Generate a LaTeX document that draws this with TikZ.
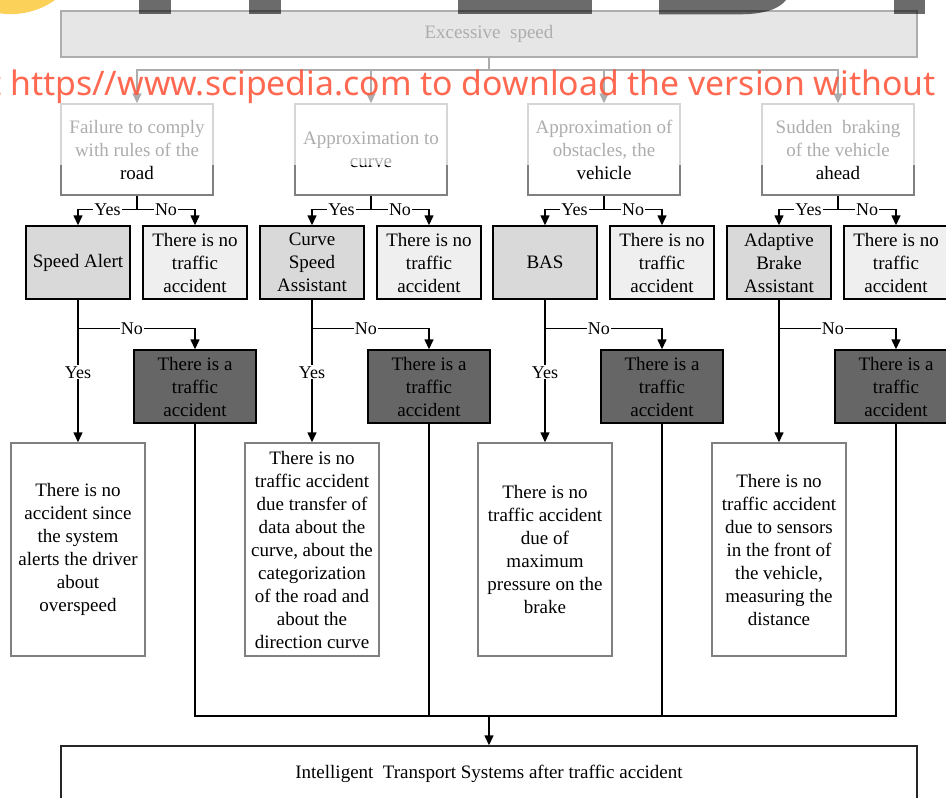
\documentclass[tikz,border=0pt]{standalone}
\usepackage{fontspec}
\setmainfont{Liberation Serif}
\newfontfamily\wmfont{Noto Sans}
\usetikzlibrary{arrows.meta}

\definecolor{edgegrey}{HTML}{808080}
\definecolor{sysfill}{HTML}{D9D9D9}
\definecolor{okfill}{HTML}{EFEFEF}
\definecolor{accfill}{HTML}{666666}
\definecolor{topfill}{HTML}{B3B3B3}
\definecolor{wmred}{RGB}{255,88,62}
\definecolor{wmyellow}{RGB}{252,209,90}

\begin{document}
\begin{tikzpicture}[x=1pt,y=-1pt,
  every node/.style={font=\fontsize{19}{23}\selectfont, align=center, inner sep=0pt},
  flow/.style={line width=1.4pt, draw=black},
  arr/.style={flow, -{Triangle[width=9pt,length=10pt]}},
  lbl/.style={fill=white, inner sep=1pt, font=\fontsize{18}{20}\selectfont},
  cause/.style={draw=black, line width=1.4pt, fill=topfill, minimum width=856pt, minimum height=46pt},
  question/.style={draw=edgegrey, line width=1.4pt, fill=white, minimum width=152pt, minimum height=91pt},
  system/.style={draw=black, line width=1.4pt, fill=sysfill, minimum width=104pt, minimum height=73pt},
  safe/.style={draw=black, line width=1.4pt, fill=okfill, minimum width=104pt, minimum height=73pt},
  crash/.style={draw=black, line width=1.4pt, fill=accfill, minimum width=122pt, minimum height=73pt},
  outcome/.style={draw=edgegrey, line width=1.4pt, fill=white, minimum width=134pt, minimum height=213pt},
  result/.style={draw=black!85, line width=1.4pt, fill=white, minimum width=856pt, minimum height=56pt}
]
\useasboundingbox (0,0) rectangle (946,798);

% cause
\node[cause] (ex) at (489,34) {Excessive\ \ speed};

% situations
\node[question] (q1) at (137,149.5) {Failure to comply\\with rules of the\\road};
\node[question] (q2) at (371,149.5) {Approximation to\\curve};
\node[question] (q3) at (604,149.5) {Approximation of\\obstacles, the\\vehicle};
\node[question] (q4) at (838,149.5) {Sudden\ \ braking\\of the vehicle\\ahead};

% assistance systems and their "no" outcomes
\node[system] (s1) at (78,262.5) {Speed Alert};
\node[safe]   (n1) at (195,262.5) {There is no\\traffic\\accident};
\node[system] (s2) at (312,262.5) {Curve\\Speed\\Assistant};
\node[safe]   (n2) at (429,262.5) {There is no\\traffic\\accident};
\node[system] (s3) at (545,262.5) {BAS};
\node[safe]   (n3) at (662,262.5) {There is no\\traffic\\accident};
\node[system] (s4) at (779,262.5) {Adaptive\\Brake\\Assistant};
\node[safe]   (n4) at (896,262.5) {There is no\\traffic\\accident};

% accidents
\node[crash] (a1) at (195,386.5) {There is a\\traffic\\accident};
\node[crash] (a2) at (429,386.5) {There is a\\traffic\\accident};
\node[crash] (a3) at (662,386.5) {There is a\\traffic\\accident};
\node[crash] (a4) at (896,386.5) {There is a\\traffic\\accident};

% explanations
\node[outcome] (o1) at (78,549.5) {There is no\\accident since\\the system\\alerts the driver\\about\\overspeed};
\node[outcome] (o2) at (312,549.5) {There is no\\traffic accident\\due transfer of\\data about the\\curve, about the\\categorization\\of the road and\\about the\\direction curve};
\node[outcome] (o3) at (545,549.5) {There is no\\traffic accident\\due of\\maximum\\pressure on the\\brake};
\node[outcome] (o4) at (779,549.5) {There is no\\traffic accident\\due to sensors\\in the front of\\the vehicle,\\measuring the\\distance};

% final stage
\node[result] (its) at (489,774) {Intelligent\ \ Transport Systems after traffic accident};

% cause -> situations
\coordinate (j0) at (489,70);
\draw[flow] (ex.south) -- (j0);
\draw[arr] (j0) -| (q1.north);
\draw[arr] (j0) -| (q2.north);
\draw[arr] (j0) -| (q3.north);
\draw[arr] (j0) -| (q4.north);

% situations -> systems
\path (q1.south) ++(0,14) coordinate (j1);
\path (q2.south) ++(0,14) coordinate (j2);
\path (q3.south) ++(0,14) coordinate (j3);
\path (q4.south) ++(0,14) coordinate (j4);
\draw[flow] (q1.south) -- (j1);
\draw[flow] (q2.south) -- (j2);
\draw[flow] (q3.south) -- (j3);
\draw[flow] (q4.south) -- (j4);
\draw[arr] (j1) -| node[lbl,pos=0.25]{Yes} (s1.north);
\draw[arr] (j1) -| node[lbl,pos=0.25]{No} (n1.north);
\draw[arr] (j2) -| node[lbl,pos=0.25]{Yes} (s2.north);
\draw[arr] (j2) -| node[lbl,pos=0.25]{No} (n2.north);
\draw[arr] (j3) -| node[lbl,pos=0.25]{Yes} (s3.north);
\draw[arr] (j3) -| node[lbl,pos=0.25]{No} (n3.north);
\draw[arr] (j4) -| node[lbl,pos=0.25]{Yes} (s4.north);
\draw[arr] (j4) -| node[lbl,pos=0.25]{No} (n4.north);

% systems -> outcomes
\path (s1.south) ++(0,29) coordinate (k1);
\path (s2.south) ++(0,29) coordinate (k2);
\path (s3.south) ++(0,29) coordinate (k3);
\path (s4.south) ++(0,29) coordinate (k4);
\draw[arr] (s1.south) -- node[lbl,pos=0.51]{Yes} (o1.north);
\draw[arr] (s2.south) -- node[lbl,pos=0.51]{Yes} (o2.north);
\draw[arr] (s3.south) -- node[lbl,pos=0.51]{Yes} (o3.north);
\draw[arr] (s4.south) -- (o4.north);
\draw[arr] (k1) -| node[lbl,pos=0.23]{No} (a1.north);
\draw[arr] (k2) -| node[lbl,pos=0.23]{No} (a2.north);
\draw[arr] (k3) -| node[lbl,pos=0.23]{No} (a3.north);
\draw[arr] (k4) -| node[lbl,pos=0.23]{No} (a4.north);

% accidents -> intelligent transport systems
\coordinate (bus) at (489,716);
\draw[flow] (a1.south) |- (bus);
\draw[flow] (a2.south) |- (bus);
\draw[flow] (a3.south) |- (bus);
\draw[flow] (a4.south) |- (bus);
\draw[arr] (bus) -- (its.north);

% light veil over the upper band
\fill[white, opacity=0.68] (0,0) rectangle (946,165);

% watermark
\fill[wmyellow] (10.8,-62.3) circle (76.4pt);
\begin{scope}[fill=black, fill opacity=0.58]
  \fill (139,0) rectangle (170.5,14.3);
  \fill (249,0) rectangle (280.5,14.3);
  \fill (458,0) rectangle (591.5,14.3);
  \fill (659,0) -- (659,14.3) -- (740,14.3) .. controls (766,14.3) and (780,8) .. (786,0) -- cycle;
  \fill (894,0) rectangle (925,14.3);
\end{scope}
\node[anchor=base east, font=\wmfont\fontsize{33.8}{36}\selectfont, text=wmred, text opacity=0.9] (wm) at (936,95) {Visit https//www.scipedia.com to download the version without};

\end{tikzpicture}
\end{document}
